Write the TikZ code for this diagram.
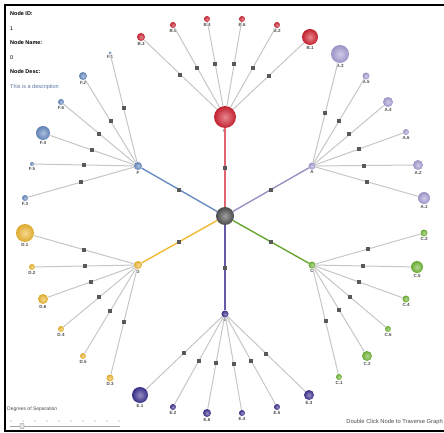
\documentclass[tikz,border=0pt]{standalone}
\usepackage{fontspec}
\setmainfont{Liberation Sans}
\usepackage{xcolor}

\definecolor{redB}{RGB}{210,35,50}
\definecolor{lavA}{RGB}{170,160,215}
\definecolor{blueF}{RGB}{105,140,195}
\definecolor{goldD}{RGB}{240,185,50}
\definecolor{greenC}{RGB}{115,185,55}
\definecolor{indE}{RGB}{60,50,145}
\definecolor{hubG}{RGB}{80,80,80}

\begin{document}
\begin{tikzpicture}[x=1pt, y=-1pt,
    ball/.style={circle, inner sep=0pt, minimum size=#1},
    tint/.style={shading=radial, inner color=#1!55!white, outer color=#1!92!black},
    lbl/.style={font=\fontsize{4.5}{5}\selectfont\bfseries, text=black!70, inner sep=0.6pt},
    edge/.style={draw=gray!45, line width=1pt},
    spoke/.style={line width=1.4pt},
    sq/.style={rectangle, fill=black!65, inner sep=0pt, minimum size=4pt},
    info/.style={font=\fontsize{5.5}{6}\selectfont, anchor=west, inner sep=0pt}]
                \useasboundingbox (0,0) rectangle (444,433);
                \draw[line width=1.1pt] (444,5) -- (5,5) -- (5,431) -- (444,431);

                \node[info, font=\fontsize{5.5}{6}\selectfont\bfseries] (idk) at (10,14) {Node ID:};
                \node[info] (idv) at (10,29) {1};
                \node[info, font=\fontsize{5.5}{6}\selectfont\bfseries] (namek) at (10,43) {Node Name:};
                \node[info] (namev) at (10,58) {0};
                \node[info, font=\fontsize{5.5}{6}\selectfont\bfseries] (desck) at (10,72) {Node Desc:};
                \node[info, text=blueF!80!black] (descv) at (10,87) {This is a description};

                \node[ball=18pt, tint=hubG] (O) at (225,216) {};

                \node[ball=22pt, tint=redB, label={[lbl]below:B}] (B) at (225,117) {};
                \node[ball=7pt, tint=lavA, label={[lbl]below:A}] (A) at (312,166) {};
                \node[ball=8pt, tint=blueF, label={[lbl]below:F}] (F) at (138,166) {};
                \node[ball=8pt, tint=goldD, label={[lbl]below:D}] (D) at (138,265) {};
                \node[ball=7pt, tint=greenC, label={[lbl]below:C}] (C) at (312,265) {};
                \node[ball=7pt, tint=indE, label={[lbl]below:E}] (E) at (225,314) {};

                \node[ball=8pt, tint=redB, label={[lbl]below:B.3}] (B3) at (141,37) {};
                \node[ball=6pt, tint=redB, label={[lbl]below:B.5}] (B5) at (173,25) {};
                \node[ball=6pt, tint=redB, label={[lbl]below:B.4}] (B4) at (207,19) {};
                \node[ball=6pt, tint=redB, label={[lbl]below:B.6}] (B6) at (242,19) {};
                \node[ball=6pt, tint=redB, label={[lbl]below:B.2}] (B2) at (277,25) {};
                \node[ball=16pt, tint=redB, label={[lbl]below:B.1}] (B1) at (310,37) {};

                \node[ball=18pt, tint=lavA, label={[lbl]below:A.3}] (A3) at (340,54) {};
                \node[ball=7pt, tint=lavA, label={[lbl]below:A.5}] (A5) at (366,76) {};
                \node[ball=10pt, tint=lavA, label={[lbl]below:A.4}] (A4) at (388,102) {};
                \node[ball=6pt, tint=lavA, label={[lbl]below:A.6}] (A6) at (406,132) {};
                \node[ball=10pt, tint=lavA, label={[lbl]below:A.2}] (A2) at (418,165) {};
                \node[ball=12pt, tint=lavA, label={[lbl]below:A.1}] (A1) at (424,198) {};

                \node[ball=3pt, tint=blueF, label={[lbl]below:F.1}] (F1) at (110,53) {};
                \node[ball=8pt, tint=blueF, label={[lbl]below:F.2}] (F2) at (83,76) {};
                \node[ball=6pt, tint=blueF, label={[lbl]below:F.6}] (F6) at (61,102) {};
                \node[ball=14pt, tint=blueF, label={[lbl]below:F.4}] (F4) at (43,133) {};
                \node[ball=4pt, tint=blueF, label={[lbl]below:F.5}] (F5) at (32,164) {};
                \node[ball=6pt, tint=blueF, label={[lbl]below:F.3}] (F3) at (25,198) {};

                \node[ball=18pt, tint=goldD, label={[lbl]below:D.1}] (D1) at (25,233) {};
                \node[ball=6pt, tint=goldD, label={[lbl]below:D.2}] (D2) at (32,267) {};
                \node[ball=10pt, tint=goldD, label={[lbl]below:D.6}] (D6) at (43,299) {};
                \node[ball=6pt, tint=goldD, label={[lbl]below:D.4}] (D4) at (61,329) {};
                \node[ball=6pt, tint=goldD, label={[lbl]below:D.5}] (D5) at (83,356) {};
                \node[ball=7pt, tint=goldD, label={[lbl]below:D.3}] (D3) at (110,378) {};

                \node[ball=7pt, tint=greenC, label={[lbl]below:C.3}] (C3) at (424,233) {};
                \node[ball=12pt, tint=greenC, label={[lbl]below:C.5}] (C5) at (417,267) {};
                \node[ball=7pt, tint=greenC, label={[lbl]below:C.4}] (C4) at (406,299) {};
                \node[ball=6pt, tint=greenC, label={[lbl]below:C.6}] (C6) at (388,329) {};
                \node[ball=10pt, tint=greenC, label={[lbl]below:C.2}] (C2) at (367,356) {};
                \node[ball=6pt, tint=greenC, label={[lbl]below:C.1}] (C1) at (339,377) {};

                \node[ball=16pt, tint=indE, label={[lbl]below:E.1}] (E1) at (140,395) {};
                \node[ball=6pt, tint=indE, label={[lbl]below:E.2}] (E2) at (173,407) {};
                \node[ball=8pt, tint=indE, label={[lbl]below:E.6}] (E6) at (207,413) {};
                \node[ball=6pt, tint=indE, label={[lbl]below:E.4}] (E4) at (242,413) {};
                \node[ball=6pt, tint=indE, label={[lbl]below:E.5}] (E5) at (277,407) {};
                \node[ball=10pt, tint=indE, label={[lbl]below:E.3}] (E3) at (309,395) {};

                \draw[spoke, draw=redB!70] (O) -- node[sq]{} (B);
                \draw[spoke, draw=lavA!90!black] (O) -- node[sq]{} (A);
                \draw[spoke, draw=blueF] (O) -- node[sq]{} (F);
                \draw[spoke, draw=goldD] (O) -- node[sq]{} (D);
                \draw[spoke, draw=greenC!90!black] (O) -- node[sq]{} (C);
                \draw[spoke, draw=indE!80] (O) -- node[sq]{} (E);

                \foreach \leaf in {B1,B2,B3,B4,B5,B6}
                    \draw[edge] (B) -- node[sq]{} (\leaf);
                \foreach \leaf in {A1,A2,A3,A4,A5,A6}
                    \draw[edge] (A) -- node[sq]{} (\leaf);
                \foreach \leaf in {F1,F2,F3,F4,F5,F6}
                    \draw[edge] (F) -- node[sq]{} (\leaf);
                \foreach \leaf in {D1,D2,D3,D4,D5,D6}
                    \draw[edge] (D) -- node[sq]{} (\leaf);
                \foreach \leaf in {C1,C2,C3,C4,C5,C6}
                    \draw[edge] (C) -- node[sq]{} (\leaf);
                \foreach \leaf in {E1,E2,E3,E4,E5,E6}
                    \draw[edge] (E) -- node[sq]{} (\leaf);

                \node[info, font=\fontsize{5}{6}\selectfont, text=black!70] (deg) at (7,409) {Degrees of Separation};
                \foreach \i in {0,...,9}
                    \fill[black!40] (11+12*\i,421) circle (0.6);
                \coordinate (s0) at (10,426);
                \coordinate (s1) at (120,426);
                \draw[black!35, line width=1pt] (s0) -- (s1);
                \node[draw=black!50, fill=black!10, rounded corners=0.5pt, minimum width=4pt, minimum height=5pt, inner sep=0pt] (thumb) at (22,426) {};
                \node[font=\fontsize{5.8}{6}\selectfont, text=black!70, anchor=east, inner sep=0pt] (hint) at (443,422) {Double Click Node to Traverse Graph};
            \end{tikzpicture}
\end{document}
